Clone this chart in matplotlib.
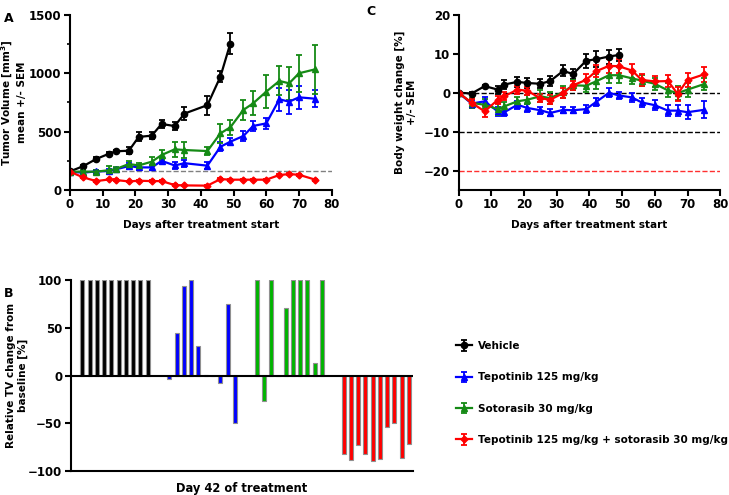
import numpy as np
import matplotlib
matplotlib.use('Agg')
import matplotlib.pyplot as plt

plt.rcParams['font.family'] = ['DejaVu Sans']
plt.rcParams['font.weight'] = 'bold'
plt.rcParams['axes.labelweight'] = 'bold'
plt.rcParams['font.size'] = 8.5
plt.rcParams['axes.labelsize'] = 7.5

# ---- data ----
days_veh = [0, 4, 8, 12, 14, 18, 21, 25, 28, 32, 35, 42, 46, 49]
days_all = [0, 4, 8, 12, 14, 18, 21, 25, 28, 32, 35, 42, 46, 49, 53, 56, 60, 64, 67, 70, 75]
days_bw = [0, 4, 8, 12, 14, 18, 21, 25, 28, 32, 35, 39, 42, 46, 49, 53, 56, 60, 64, 67, 70, 75]
days_bw_veh = [0, 4, 8, 12, 14, 18, 21, 25, 28, 32, 35, 39, 42, 46, 49]

# tumour volume (mean, sem)
tv_veh = [160, 204, 266, 312, 332, 337, 455, 466, 566, 548, 655, 727, 972, 1254]
tv_veh_err = [8, 10, 20, 12, 10, 30, 38, 30, 38, 32, 55, 82, 50, 93]
tv_tep = [157, 149, 160, 163, 177, 206, 194, 194, 250, 211, 230, 209, 371, 414, 463, 549, 571, 777, 757, 794, 782]
tv_tep_err = [8, 15, 15, 20, 15, 25, 20, 20, 28, 28, 30, 28, 40, 32, 42, 45, 45, 96, 103, 100, 75]
tv_sot = [157, 158, 157, 171, 180, 223, 211, 243, 300, 349, 343, 334, 486, 537, 686, 743, 843, 934, 914, 1000, 1034]
tv_sot_err = [8, 12, 12, 35, 18, 30, 25, 40, 40, 65, 65, 36, 80, 67, 83, 104, 139, 124, 143, 160, 210]
tv_combo = [157, 109, 77, 91, 86, 74, 80, 77, 77, 43, 40, 38, 94, 89, 89, 89, 89, 129, 137, 131, 89]
tv_combo_err = [5, 8, 8, 8, 6, 6, 6, 6, 6, 6, 6, 6, 8, 8, 6, 6, 6, 10, 10, 10, 8]

# body weight change (mean, sem)
bw_veh = [0, -0.2, 1.7, 0.8, 2.1, 2.8, 2.5, 2.3, 3.0, 5.6, 4.8, 8.2, 8.6, 9.3, 9.7]
bw_veh_err = [0.3, 0.5, 0.3, 1.0, 1.2, 1.3, 1.2, 1.2, 1.4, 1.4, 1.4, 1.8, 2.0, 1.8, 1.6]
bw_tep = [0, -2.8, -2.2, -4.8, -5.0, -3.1, -3.9, -4.5, -5.2, -4.4, -4.5, -4.2, -2.4, 0, -0.7, -1.2, -2.5, -3.2, -4.6, -4.6, -5.0, -4.4]
bw_tep_err = [0.3, 1.0, 1.2, 1.2, 1.0, 1.0, 1.0, 0.9, 0.9, 0.8, 0.8, 1.0, 1.0, 1.2, 1.0, 1.2, 1.1, 1.3, 1.4, 1.4, 1.8, 2.2]
bw_sot = [0, -2.6, -3.1, -4.2, -3.5, -2.2, -1.8, -0.9, -1.4, 0.2, 1.9, 1.8, 2.9, 4.5, 4.5, 3.7, 3.1, 2.3, 0.6, -0.1, 0.8, 2.2]
bw_sot_err = [0.3, 1.2, 1.5, 1.5, 1.2, 1.2, 1.2, 1.5, 1.5, 1.5, 1.3, 1.5, 2.0, 2.0, 2.0, 1.5, 1.5, 1.5, 1.8, 1.8, 1.8, 1.5]
bw_combo = [0, -2.6, -4.8, -1.8, -0.9, 0.8, 0.5, -1.4, -1.8, -0.1, 1.9, 3.3, 5.5, 6.9, 6.8, 5.7, 3.3, 2.9, 3.0, -0.3, 3.3, 4.7]
bw_combo_err = [0.3, 1.0, 1.5, 1.0, 1.0, 1.0, 1.0, 1.0, 1.2, 1.2, 1.2, 1.5, 1.5, 1.8, 1.8, 1.8, 1.5, 1.5, 1.5, 1.8, 1.8, 2.0]

# waterfall at day 42 (bars above 100 are clipped in the original)
wf_veh = [100, 100, 100, 100, 100, 100, 100, 100, 100, 100]
wf_tep = [-3, 45, 94, 100, 31, 1, 0, -8, 75, -49]
wf_sot = [100, -27, 100, 0, 71, 100, 100, 100, 13, 100]
wf_combo = [-82, -88, -73, -82, -89, -87, -54, -50, -86, -72]

labels = ['Vehicle', 'Tepotinib 125 mg/kg', 'Sotorasib 30 mg/kg',
          'Tepotinib 125 mg/kg + sotorasib 30 mg/kg']
cols = ['black', '#0000ff', '#158a15', '#ff0000']
bar_cols = ['black', '#0000ff', '#00b400', '#ff0000']
markers = ['o', '^', '^', 'D']
msizes = [4.5, 5, 4, 3.5]

fig = plt.figure(figsize=(7.29, 4.95), dpi=100)

def style(ax):
    for s in ['top', 'right']:
        ax.spines[s].set_visible(False)
    ax.spines['left'].set_linewidth(1.5)
    ax.spines['bottom'].set_linewidth(1.5)
    ax.tick_params(width=1.5, length=4, pad=2)

# ---- panel A ----
axA = fig.add_axes([0.096, 0.616, 0.359, 0.354])
axA.axhline(160, color='gray', ls='--', lw=1)
tv_sets = [(days_veh, tv_veh, tv_veh_err), (days_all, tv_tep, tv_tep_err),
           (days_all, tv_sot, tv_sot_err), (days_all, tv_combo, tv_combo_err)]
handles = []
for (d, v, e), c, m, ms, lab in zip(tv_sets, cols, markers, msizes, labels):
    h = axA.errorbar(d, v, yerr=e, color=c, marker=m, ms=ms, lw=1.6,
                     capsize=2.5, elinewidth=1.3, capthick=1.3, label=lab)
    handles.append(h)
axA.set_xlim(0, 80)
axA.set_ylim(0, 1500)
axA.set_xticks(range(0, 81, 10))
axA.set_yticks([0, 500, 1000, 1500])
axA.set_yticks([250, 750, 1250], minor=True)
axA.tick_params(which='minor', width=1.2, length=2.5)
axA.set_xlabel('Days after treatment start', labelpad=6)
axA.set_ylabel('Tumor Volume [mm$^\\mathbf{3}$]\nmean +/- SEM')
axA.yaxis.set_label_coords(-0.165, 0.5)
style(axA)

# ---- panel C ----
axC = fig.add_axes([0.629, 0.616, 0.359, 0.354])
axC.axhline(0, color='black', ls='--', lw=1)
axC.axhline(-10, color='black', ls='--', lw=1)
axC.axhline(-20, color='#ff3030', ls='--', lw=1)
bw_sets = [(days_bw_veh, bw_veh, bw_veh_err), (days_bw, bw_tep, bw_tep_err),
           (days_bw, bw_sot, bw_sot_err), (days_bw, bw_combo, bw_combo_err)]
for (d, v, e), c, m, ms in zip(bw_sets, cols, markers, msizes):
    axC.errorbar(d, v, yerr=e, color=c, marker=m, ms=ms, lw=1.6,
                 capsize=2.5, elinewidth=1.3, capthick=1.3)
axC.set_xlim(0, 80)
axC.set_ylim(-25, 20)
axC.set_xticks(range(0, 81, 10))
axC.set_yticks([-20, -10, 0, 10, 20])
axC.set_xlabel('Days after treatment start', labelpad=6)
axC.set_ylabel('Body weight change [%]\n+/- SEM')
axC.yaxis.set_label_coords(-0.16, 0.5)
style(axC)

# ---- panel B ----
axB = fig.add_axes([0.097, 0.048, 0.470, 0.386])
wf_sets = [wf_veh, wf_tep, wf_sot, wf_combo]
for g, (vals, c) in enumerate(zip(wf_sets, bar_cols)):
    x = np.arange(len(vals)) + g * 12
    axB.bar(x, vals, width=0.55, color=c, edgecolor='#909090', linewidth=0.8)
axB.axhline(0, color='black', lw=1.5)
axB.set_xlim(-1.6, 45.6)
axB.set_ylim(-100, 100)
axB.set_yticks([-100, -50, 0, 50, 100])
axB.set_xticks([])
axB.set_xlabel('Day 42 of treatment', fontsize=8.3, labelpad=8)
axB.set_ylabel('Relative TV change from\nbaseline [%]')
axB.yaxis.set_label_coords(-0.125, 0.5)
style(axB)

fig.legend(handles=handles, labels=labels, loc='upper left',
           bbox_to_anchor=(0.612, 0.33), frameon=False, labelspacing=2.05,
           handlelength=1.6, handletextpad=0.6, fontsize=7.5)

fig.text(0.005, 0.975, 'A', fontsize=9, fontweight='bold', va='top')
fig.text(0.005, 0.42, 'B', fontsize=9, fontweight='bold', va='top')
fig.text(0.503, 0.99, 'C', fontsize=9, fontweight='bold', va='top')

fig.savefig('out.png', dpi=100)
